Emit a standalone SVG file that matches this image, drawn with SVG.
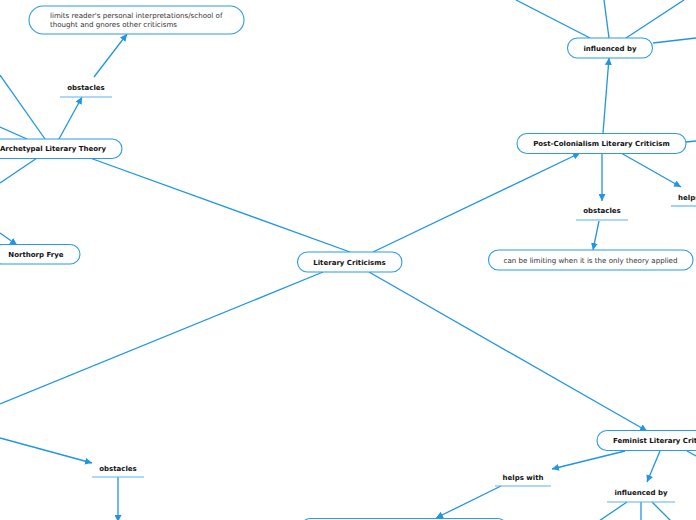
<svg xmlns="http://www.w3.org/2000/svg" width="696" height="520" viewBox="0 0 696 520">
<style>
.box{fill:#fff;stroke:#2b9be6;stroke-width:1.1}
.c{stroke:#1f95e4;stroke-width:1.3;fill:none}
.ul{stroke:#5fb4ee;stroke-width:1.2}
.b{font-family:"DejaVu Sans",Verdana,sans-serif;font-weight:bold;font-size:7px;fill:#111;text-anchor:middle}
.n{font-family:"DejaVu Sans",Verdana,sans-serif;font-size:7.1px;fill:#333}
</style>
<defs>
<marker id="a" viewBox="0 0 10 10" refX="10" refY="5" markerWidth="7" markerHeight="7" markerUnits="userSpaceOnUse" orient="auto">
<path d="M0,0 L10,5 L0,10 z" fill="#1f95e4"/>
</marker>
</defs>
<rect width="696" height="520" fill="#fff"/>
<g id="connectors">
<line class="c" x1="90" y1="158" x2="350" y2="252"/>
<line class="c" x1="373" y1="252" x2="580" y2="153" marker-end="url(#a)"/>
<line class="c" x1="323" y1="272" x2="0" y2="404"/>
<line class="c" x1="369" y1="272" x2="647" y2="431" marker-end="url(#a)"/>
<line class="c" x1="603" y1="133" x2="609" y2="58" marker-end="url(#a)"/>
<line class="c" x1="590" y1="38" x2="516" y2="0"/>
<line class="c" x1="609" y1="38" x2="604" y2="0"/>
<line class="c" x1="626" y1="38" x2="684" y2="0"/>
<line class="c" x1="653" y1="43" x2="696" y2="38"/>
<line class="c" x1="686" y1="142" x2="696" y2="141"/>
<line class="c" x1="602" y1="153" x2="602" y2="201" marker-end="url(#a)"/>
<line class="c" x1="621" y1="153" x2="681" y2="187" marker-end="url(#a)"/>
<line class="c" x1="599" y1="221" x2="593" y2="250" marker-end="url(#a)"/>
<line class="c" x1="59" y1="139" x2="82" y2="97" marker-end="url(#a)"/>
<line class="c" x1="94" y1="77" x2="127" y2="34" marker-end="url(#a)"/>
<line class="c" x1="45" y1="139" x2="0" y2="75"/>
<line class="c" x1="27" y1="139" x2="0" y2="127"/>
<line class="c" x1="37" y1="158" x2="0" y2="183"/>
<line class="c" x1="0" y1="233" x2="17" y2="245" marker-end="url(#a)"/>
<line class="c" x1="0" y1="438" x2="92" y2="463" marker-end="url(#a)"/>
<line class="c" x1="118" y1="477" x2="118" y2="522" marker-end="url(#a)"/>
<line class="c" x1="625" y1="451" x2="552" y2="469" marker-end="url(#a)"/>
<line class="c" x1="501" y1="486" x2="436" y2="518" marker-end="url(#a)"/>
<line class="c" x1="660" y1="451" x2="647" y2="482" marker-end="url(#a)"/>
<line class="c" x1="687" y1="451" x2="696" y2="456"/>
<line class="c" x1="627" y1="502" x2="599" y2="521"/>
<line class="c" x1="641" y1="502" x2="641" y2="521"/>
<line class="c" x1="652" y1="502" x2="671" y2="521"/>
</g>
<g id="n-limits">
<rect class="box" x="29" y="6" width="215" height="28" rx="14"/>
<text class="n" x="50" y="17.5">limits reader's personal interpretations/school of</text>
<text class="n" x="50" y="26.5">thought and gnores other criticisms</text>
</g>
<g id="n-obst1">
<text class="b" x="86" y="90">obstacles</text>
<line class="ul" x1="60" y1="97" x2="112" y2="97"/>
</g>
<g id="n-arch">
<rect class="box" x="-17" y="139" width="139" height="19.5" rx="9.75"/>
<text class="b" x="53" y="151.3">Archetypal Literary Theory</text>
</g>
<g id="n-frye">
<rect class="box" x="-8" y="244.5" width="88" height="19.5" rx="9.75"/>
<text class="b" x="36" y="256.8">Northorp Frye</text>
</g>
<g id="n-lit">
<rect class="box" x="297.5" y="252" width="104.5" height="20" rx="10"/>
<text class="b" x="349.5" y="264.5">Literary Criticisms</text>
</g>
<g id="n-post">
<rect class="box" x="517" y="133.5" width="169" height="20" rx="10"/>
<text class="b" x="601.5" y="146">Post-Colonialism Literary Criticism</text>
</g>
<g id="n-infl1">
<rect class="box" x="567.5" y="38" width="85" height="20" rx="10"/>
<text class="b" x="610" y="50.5">influenced by</text>
</g>
<g id="n-obst2">
<text class="b" x="602" y="212.5">obstacles</text>
<line class="ul" x1="576" y1="220" x2="628" y2="220"/>
</g>
<g id="n-helps1">
<text class="b" x="678" y="200" style="text-anchor:start">helps with</text>
<line class="ul" x1="671" y1="206" x2="700" y2="206"/>
</g>
<g id="n-limiting">
<rect class="box" x="488.5" y="250" width="204.5" height="20" rx="10"/>
<text class="n" x="590.5" y="262.5" style="text-anchor:middle">can be limiting when it is the only theory applied</text>
</g>
<g id="n-fem">
<rect class="box" x="597" y="430.5" width="142" height="20" rx="10"/>
<text class="b" x="613" y="443" style="text-anchor:start">Feminist Literary Criticism</text>
</g>
<g id="n-helps2">
<text class="b" x="523" y="479.5">helps with</text>
<line class="ul" x1="495" y1="486" x2="551" y2="486"/>
</g>
<g id="n-infl2">
<text class="b" x="641" y="495">influenced by</text>
<line class="ul" x1="607" y1="502" x2="675" y2="502"/>
</g>
<g id="n-obst3">
<text class="b" x="118" y="470.5">obstacles</text>
<line class="ul" x1="92" y1="477" x2="144" y2="477"/>
</g>
<g id="n-bottom">
<rect class="box" x="300.5" y="518.5" width="207" height="20" rx="10"/>
</g>
</svg>
